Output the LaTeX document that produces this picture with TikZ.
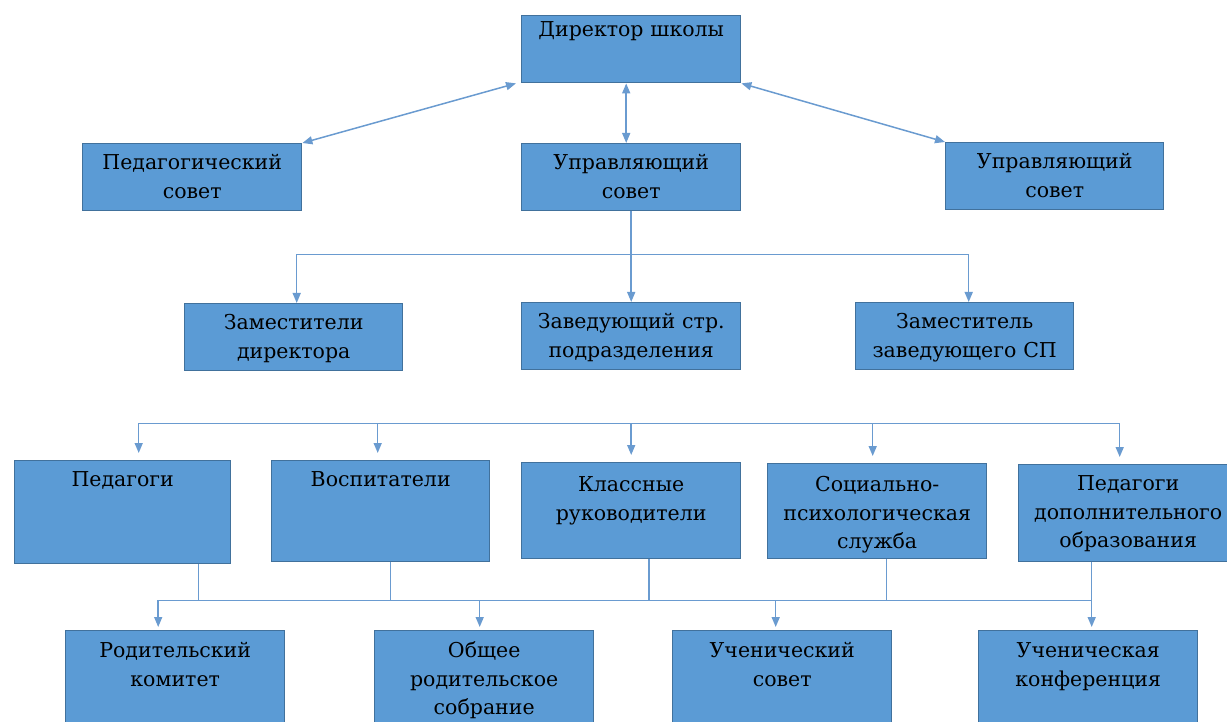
\documentclass[tikz,border=0pt]{standalone}
\usepackage{fontspec}
\setmainfont{DejaVu Serif}
\usetikzlibrary{arrows.meta, positioning}
\definecolor{boxfill}{HTML}{5B9BD5}
\definecolor{boxline}{HTML}{41719C}
\definecolor{linkcol}{HTML}{6A9BD0}
\tikzstyle{block} = [draw=boxline, fill=boxfill, rectangle, anchor=north west,
    inner sep=0pt, align=center, text width=219pt, text height=26pt,
    text depth=41pt, line width=1.4pt]
\tikzstyle{link} = [draw=linkcol, line width=1.5pt]

\begin{document}
\begin{tikzpicture}[x=1pt, y=-1pt, >={Triangle[length=10pt,width=8pt]},
    font=\fontsize{20.5}{28.5}\selectfont]
    \clip (0,0) rectangle (1227,722);
    % head and councils
    \node [block, text height=21pt, text depth=46pt] (dir) at (521,15) {Директор школы};
    \node [block] (pedsov) at (82,143) {Педагогический\\совет};
    \node [block] (upr) at (521,143) {Управляющий\\совет};
    \node [block, text width=218pt] (upr2) at (945,142) {Управляющий\\совет};
    \draw [link,<->] (pedsov.north east) -- ([xshift=-5pt]dir.south west);
    \draw [link,<->] ([xshift=-5pt]dir.south) -- ([xshift=-5pt]upr.north);
    \draw [link,<->] (dir.south east) -- (upr2.north west);
    % deputies
    \node [block, text width=218pt] (zamdir) at (184,303) {Заместители\\директора};
    \node [block] (zav) at (521,302) {Заведующий стр.\\подразделения};
    \node [block, text width=218pt] (zamzav) at (855,302) {Заместитель\\заведующего СП};
    \coordinate (bus1) at ([yshift=-43pt]upr.south);
    \draw [link,->] (upr.south) -- (zav.north);
    \draw [link,->] (bus1) -| ([xshift=3pt]zamdir.north);
    \draw [link,->] (bus1) -| ([xshift=4pt]zamzav.north);
    % staff
    \node [block, text width=216pt, text depth=77pt] (ped) at (14,460) {Педагоги};
    \node [block, text width=218pt, text depth=75pt] (vos) at (271,460) {Воспитатели};
    \node [block, text height=29pt, text depth=67pt] (kl) at (521,462) {Классные\\руководители};
    \node [block, text height=28pt, text depth=67pt] (soc) at (767,463) {Социально-\\психологическая\\служба};
    \node [block, text depth=71pt] (pdo) at (1018,464) {Педагоги\\дополнительного\\образования};
    \coordinate (bus2) at ([yshift=-53pt]zav.south);
    \foreach \n/\s in {ped/16, vos/-3, kl/0, soc/-4.5, pdo/-8.5}
        \draw [link,->,shorten >=7pt] (bus2) -| ([xshift=\s pt]\n.north);
    % parents and pupils
    \node [block, text height=27pt, text depth=90pt] (rod) at (65,630) {Родительский\\комитет};
    \node [block, text height=27pt, text depth=90pt] (obsh) at (374,630) {Общее\\родительское\\собрание};
    \node [block, text height=27pt, text depth=90pt] (uch) at (672,630) {Ученический\\совет};
    \node [block, text height=27pt, text depth=90pt] (konf) at (978,630) {Ученическая\\конференция};
    \coordinate (bus3) at ([xshift=18pt, yshift=-41pt]kl.south);
    \foreach \n/\s in {ped/76, vos/10, kl/18, soc/9.5, pdo/-36.5}
        \draw [link] ([xshift=\s pt]\n.south) |- (bus3);
    \foreach \n/\s in {rod/-17, obsh/-4.5, uch/-6.5, konf/3.5}
        \draw [link,->,shorten >=3pt] (bus3) -| ([xshift=\s pt]\n.north);
\end{tikzpicture}
\end{document}
